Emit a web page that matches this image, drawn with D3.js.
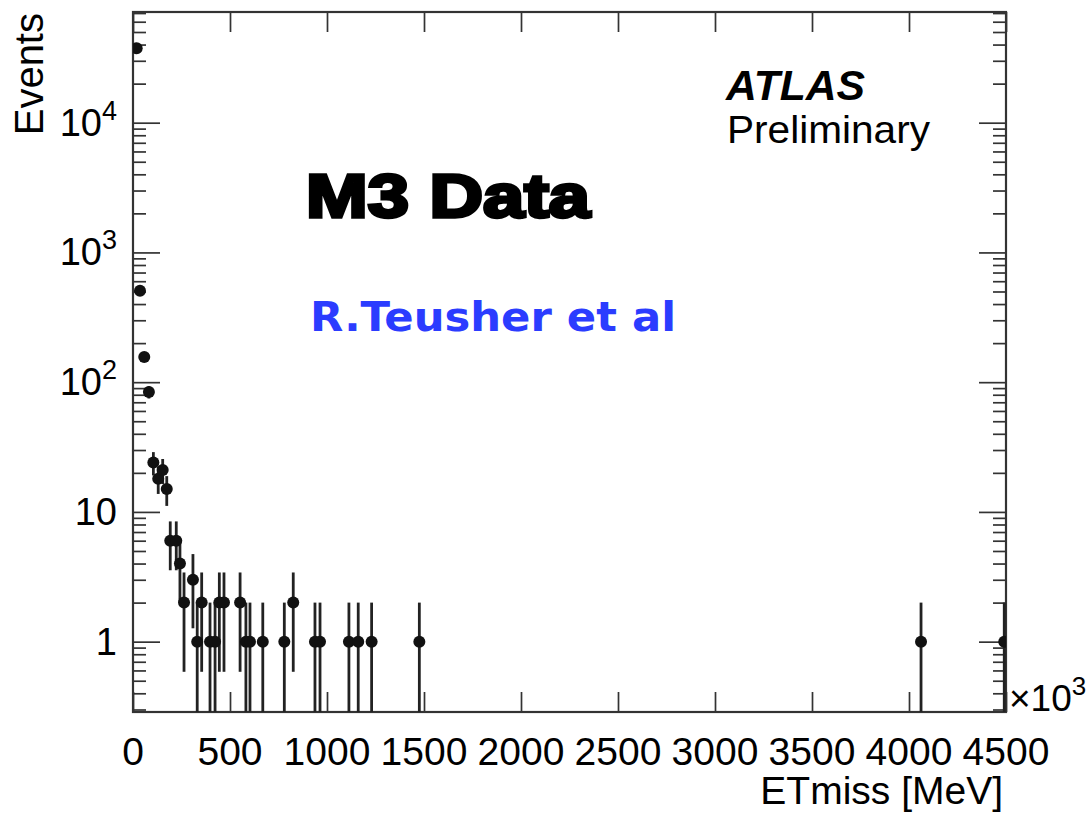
<!DOCTYPE html>
<html>
<head>
<meta charset="utf-8">
<script src="https://cdn.jsdelivr.net/npm/d3@7"></script>
<style>
  body { margin: 0; background: #fff; }
  svg { display: block; font-family: "Liberation Sans", Arial, sans-serif; }
</style>
</head>
<body>
<svg id="chart" width="1092" height="817"></svg>
<script>
// ETmiss bin centres [MeV] and event counts
const etmiss = [19, 36, 58, 82, 105, 130, 153, 174, 192, 223, 242, 263, 309, 331, 354,
                397, 423, 445, 469, 552, 582, 603, 669, 780, 826, 938, 964, 1113, 1161,
                1230, 1476, 4062, 4491];
const events = [37400, 507, 156, 84, 24, 18, 21, 15, 6, 6, 4, 2, 3, 1, 2,
                1, 1, 2, 2, 2, 1, 1, 1, 1, 2, 1, 1, 1, 1,
                1, 1, 1, 1];

const xTicks = [0, 500, 1000, 1500, 2000, 2500, 3000, 3500, 4000, 4500];
const yMajor = [1, 10, 100, 1000, 10000];
const yLabels = [["1", ""], ["10", ""], ["10", "2"], ["10", "3"], ["10", "4"]];
const yDomain = [0.287, 71300];

const frame = { left: 133, right: 1006, top: 12, bottom: 712 };

const svg = d3.select("#chart");

const x = d3.scaleLinear().domain([0, 4500]).range([frame.left, frame.right]);
const y = d3.scaleLog().domain(yDomain).range([frame.bottom, frame.top]);

// minor ticks 2..9 per decade inside the domain
let yMinor = [];
for (let e = -1; e <= 4; e++) {
    for (let m = 2; m <= 9; m++) {
        const v = m * Math.pow(10, e);
        if (v >= yDomain[0] && v <= yDomain[1]) yMinor.push(v);
    }
}

const axisColor = "#333";

function styleAxis(g) {
    g.select(".domain").remove();
    g.selectAll("line").attr("stroke", axisColor).attr("stroke-width", 1.7);
}

// left axis, ticks pointing inward
svg.append("g")
    .attr("transform", `translate(${frame.left},0)`)
    .call(d3.axisRight(y).tickValues(yMajor).tickSize(27).tickFormat(""))
    .call(styleAxis);
svg.append("g")
    .attr("transform", `translate(${frame.left},0)`)
    .call(d3.axisRight(y).tickValues(yMinor).tickSize(13).tickFormat(""))
    .call(styleAxis);

// right axis
svg.append("g")
    .attr("transform", `translate(${frame.right},0)`)
    .call(d3.axisLeft(y).tickValues(yMajor).tickSize(27).tickFormat(""))
    .call(styleAxis);
svg.append("g")
    .attr("transform", `translate(${frame.right},0)`)
    .call(d3.axisLeft(y).tickValues(yMinor).tickSize(13).tickFormat(""))
    .call(styleAxis);

// bottom and top x axes
svg.append("g")
    .attr("transform", `translate(0,${frame.bottom})`)
    .call(d3.axisTop(x).tickValues(xTicks).tickSize(20).tickFormat(""))
    .call(styleAxis);
svg.append("g")
    .attr("transform", `translate(0,${frame.top})`)
    .call(d3.axisBottom(x).tickValues(xTicks).tickSize(20).tickFormat(""))
    .call(styleAxis);

// frame
svg.append("rect")
    .attr("x", frame.left).attr("y", frame.top)
    .attr("width", frame.right - frame.left).attr("height", frame.bottom - frame.top)
    .attr("fill", "none").attr("stroke", axisColor).attr("stroke-width", 2.2);

// x tick labels
svg.append("g").selectAll("text")
    .data(xTicks)
    .join("text")
    .attr("x", d => x(d))
    .attr("y", 765)
    .attr("text-anchor", "middle")
    .attr("font-size", 39)
    .attr("fill", "#000")
    .text(d => d);

// y tick labels with superscripts
const yl = svg.append("g").selectAll("text")
    .data(yMajor)
    .join("text")
    .attr("x", 117)
    .attr("y", d => y(d) + 13)
    .attr("text-anchor", "end")
    .attr("font-size", 38)
    .attr("fill", "#000");
yl.append("tspan").text((d, i) => yLabels[i][0]);
yl.append("tspan")
    .attr("font-size", 27)
    .attr("dy", (d, i) => yLabels[i][1] ? -16 : 0)
    .text((d, i) => yLabels[i][1]);

// axis titles
svg.append("text")
    .attr("transform", "translate(43,13) rotate(-90)")
    .attr("text-anchor", "end")
    .attr("font-size", 40)
    .text("Events");

svg.append("text")
    .attr("x", 1003).attr("y", 804)
    .attr("text-anchor", "end")
    .attr("font-size", 39)
    .text("ETmiss [MeV]");

const mult = svg.append("text")
    .attr("x", 1009).attr("y", 711)
    .attr("font-size", 37);
mult.append("tspan").text("\u00d710");
mult.append("tspan").attr("font-size", 26).attr("dy", -16).text("3");

// data: poisson error bars and markers
svg.append("clipPath").attr("id", "plotclip")
    .append("rect")
    .attr("x", frame.left).attr("y", frame.top)
    .attr("width", frame.right - frame.left).attr("height", frame.bottom - frame.top);

const pts = etmiss.map((e, i) => ({ e: e, n: events[i] }));
const dataG = svg.append("g").attr("clip-path", "url(#plotclip)");

dataG.selectAll("line.err")
    .data(pts)
    .join("line")
    .attr("class", "err")
    .attr("x1", d => x(d.e)).attr("x2", d => x(d.e))
    .attr("y1", d => y(d.n + Math.sqrt(d.n)))
    .attr("y2", d => {
        const lo = d.n - Math.sqrt(d.n);
        return lo <= yDomain[0] ? frame.bottom + 5 : y(lo);
    })
    .attr("stroke", "#222")
    .attr("stroke-width", 2.8);

dataG.selectAll("circle")
    .data(pts)
    .join("circle")
    .attr("cx", d => x(d.e))
    .attr("cy", d => y(d.n))
    .attr("r", 6)
    .attr("fill", "#111");

// labels inside the plot
svg.append("text")
    .attr("x", 726).attr("y", 100)
    .attr("font-size", 42)
    .attr("font-weight", "bold")
    .attr("font-style", "italic")
    .attr("textLength", 139)
    .attr("lengthAdjust", "spacingAndGlyphs")
    .text("ATLAS");

svg.append("text")
    .attr("x", 727).attr("y", 143)
    .attr("font-size", 39)
    .attr("textLength", 203)
    .attr("lengthAdjust", "spacingAndGlyphs")
    .text("Preliminary");

svg.append("text")
    .attr("x", 306).attr("y", 217)
    .attr("font-size", 62)
    .attr("font-weight", "bold")
    .attr("stroke", "#000")
    .attr("stroke-width", 3.5)
    .attr("textLength", 284)
    .attr("lengthAdjust", "spacingAndGlyphs")
    .text("M3 Data");

svg.append("text")
    .attr("x", 310).attr("y", 331)
    .attr("font-size", 40)
    .attr("font-weight", "bold")
    .attr("font-family", "'DejaVu Sans', sans-serif")
    .attr("fill", "#2b3cff")
    .attr("textLength", 366)
    .attr("lengthAdjust", "spacingAndGlyphs")
    .text("R.Teusher et al");
</script>
</body>
</html>
